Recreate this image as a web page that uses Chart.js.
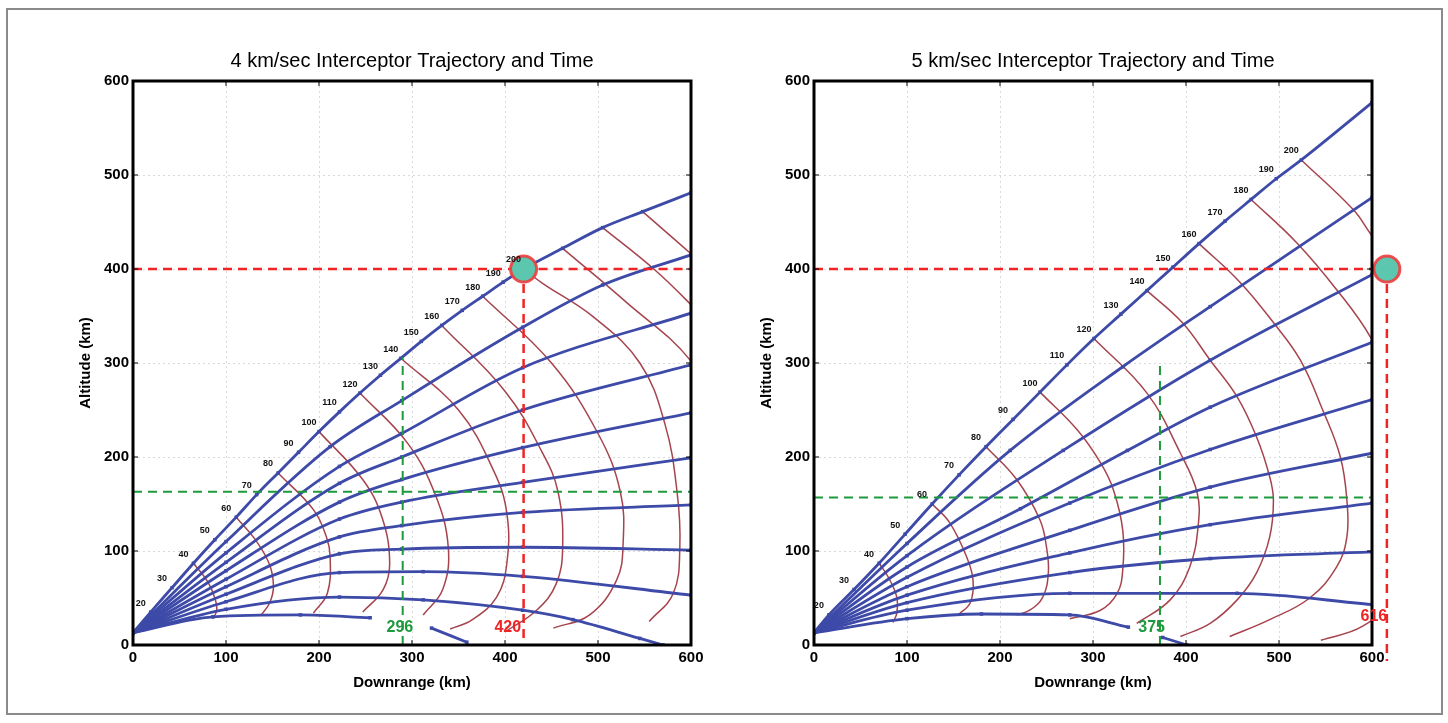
<!DOCTYPE html>
<html>
<head>
<meta charset="utf-8">
<script src="https://cdn.jsdelivr.net/npm/chart.js@4.4.0/dist/chart.umd.min.js"></script>
<style>
  body { margin: 0; background: #fff; width: 1448px; height: 723px; overflow: hidden; position: relative; }
  #frame { position: absolute; left: 6px; top: 8px; width: 1437px; height: 707px; border: 2px solid #8a8a8a; box-sizing: border-box; }
  canvas { position: absolute; top: 0; }
  #left { left: 0; }
  #right { left: 724px; }
</style>
</head>
<body>
<div id="frame"></div>
<canvas id="left" width="724" height="723"></canvas>
<canvas id="right" width="724" height="723"></canvas>
<script>
'use strict'

// axis ticks (km)
const xTicks = [0, 100, 200, 300, 400, 500, 600];
const yTicks = [0, 100, 200, 300, 400, 500, 600];

// time marks along the top trajectory (sec)
const times = [20, 30, 40, 50, 60, 70, 80, 90, 100, 110, 120, 130, 140, 150, 160, 170, 180, 190, 200];

// ---- 4 km/sec panel ----
const leftTimeX = [19, 42, 65, 88, 111, 133, 156, 178, 200, 222, 244, 266, 288, 310, 332, 354, 376, 398, 420];
const leftTimeY = [35, 61, 87, 112, 136, 160, 183, 205, 227, 248, 268, 287, 305, 323, 340, 356, 371, 386, 400];
const leftTopTail = [[462, 422], [505, 444], [548, 461], [600, 481]];

const leftTraj2 = [[0, 13], [100, 110], [212, 211], [289, 260], [419, 338], [505, 383], [600, 415]];
const leftTraj3 = [[0, 13], [100, 98], [222, 190], [289, 225], [419, 295], [600, 353]];
const leftTraj4 = [[0, 13], [100, 88], [222, 172], [289, 200], [419, 250], [600, 298]];
const leftTraj5 = [[0, 13], [100, 79], [222, 152], [289, 176], [419, 210], [600, 247]];
const leftTraj6 = [[0, 13], [100, 70], [222, 134], [289, 152], [419, 173], [600, 199]];
const leftTraj7 = [[0, 13], [100, 62], [222, 115], [289, 127], [419, 141], [600, 149]];
const leftTraj8 = [[0, 13], [100, 54], [222, 97], [289, 102], [419, 104], [600, 101]];
const leftTraj9 = [[0, 13], [100, 46], [222, 77], [312, 78], [419, 73], [600, 53]];
const leftTraj10 = [[0, 13], [100, 38], [222, 51], [312, 48], [419, 37], [473, 27], [545, 7], [570, 0]];
const leftTraj11a = [[0, 13], [86, 30], [180, 32], [255, 29]];
const leftTraj11b = [[321, 18], [359, 3]];

const leftArc20 = [[19, 35], [25, 28], [26, 20]];
const leftArc40 = [[65, 87], [80, 68], [88, 50], [90, 37], [86, 28]];
const leftArc60 = [[111, 136], [133, 110], [147, 85], [151, 62], [147, 45], [138, 32]];
const leftArc80 = [[156, 183], [194, 144], [208, 115], [212, 94], [209, 55], [194, 34]];
const leftArc100 = [[200, 227], [247, 176], [268, 135], [276, 87], [269, 59], [247, 35]];
const leftArc120 = [[244, 268], [295, 215], [325, 160], [339, 104], [333, 59], [312, 32]];
const leftArc140 = [[288, 305], [350, 250], [388, 185], [402, 140], [402, 87], [391, 51], [365, 27], [341, 17]];
const leftArc160 = [[332, 340], [400, 270], [440, 205], [457, 163], [462, 104], [455, 65], [434, 37], [400, 14]];
const leftArc180 = [[376, 371], [450, 300], [500, 225], [524, 163], [527, 108], [520, 69], [491, 32], [452, 18]];
const leftArc200 = [[420, 400], [440, 385], [495, 349], [545, 300], [572, 235], [585, 163], [588, 104], [581, 55], [555, 25]];
const leftArc220 = [[462, 422], [530, 365], [600, 302], [640, 230]];
const leftArc240 = [[505, 444], [560, 400], [600, 362], [640, 320]];
const leftArc260 = [[548, 461], [599, 417], [640, 380]];

const leftIntercept = [420, 400];
const leftGreen = [290, 163, 306];   // x of vertical, y of horizontal, top of vertical

// ---- 5 km/sec panel ----
const rightTimeX = [16, 43, 70, 98, 127, 156, 185, 214, 243, 272, 301, 330, 358, 386, 414, 442, 470, 497, 524];
const rightTimeY = [32, 59, 87, 118, 150, 181, 211, 240, 269, 298, 326, 352, 377, 402, 427, 451, 474, 496, 516];
const rightTopTail = [[600, 577]];

const rightTraj2 = [[0, 13], [100, 108], [211, 207], [332, 296], [426, 360], [600, 476]];
const rightTraj3 = [[0, 13], [100, 95], [268, 207], [426, 303], [600, 394]];
const rightTraj4 = [[0, 13], [100, 83], [222, 145], [337, 207], [426, 253], [600, 322]];
const rightTraj5 = [[0, 13], [100, 72], [275, 151], [426, 208], [600, 261]];
const rightTraj6 = [[0, 13], [100, 62], [275, 122], [426, 168], [600, 204]];
const rightTraj7 = [[0, 13], [100, 53], [275, 98], [426, 128], [600, 151]];
const rightTraj8 = [[0, 13], [100, 45], [275, 77], [426, 92], [600, 99]];
const rightTraj9 = [[0, 13], [100, 37], [275, 55], [455, 55], [600, 43]];
const rightTraj10a = [[0, 13], [100, 28], [180, 33], [275, 32], [338, 19]];
const rightTraj10b = [[375, 8], [401, 0]];

const rightArc20 = [[16, 32], [22, 24], [21, 17]];
const rightArc40 = [[70, 87], [80, 72], [89, 51], [89, 34], [85, 24]];
const rightArc60 = [[127, 150], [146, 130], [164, 94], [171, 69], [168, 45], [155, 32]];
const rightArc80 = [[185, 211], [218, 176], [243, 133], [250, 104], [252, 77], [246, 51], [232, 37], [218, 32]];
const rightArc100 = [[243, 269], [283, 229], [308, 194], [322, 165], [332, 122], [332, 80], [326, 55], [308, 37], [275, 28]];
const rightArc120 = [[301, 326], [358, 268], [394, 204], [412, 162], [413, 126], [404, 83], [383, 48], [347, 23]];
const rightArc140 = [[358, 377], [396, 343], [426, 303], [455, 264], [476, 221], [490, 179], [494, 154], [490, 115], [476, 77], [455, 48], [426, 23], [394, 9]];
const rightArc160 = [[414, 427], [458, 386], [494, 343], [523, 303], [547, 250], [566, 200], [573, 154], [573, 115], [562, 83], [533, 50], [490, 27], [447, 9]];
const rightArc180 = [[470, 474], [519, 428], [562, 378], [598, 328], [630, 260], [648, 180], [650, 110], [630, 55], [590, 20], [545, 5]];
const rightArc200 = [[524, 516], [580, 463], [598, 438], [640, 380]];

const rightIntercept = [616, 400];
const rightGreen = [372, 157, 303];

const FONT = '"Liberation Sans", Arial, sans-serif';
const BLUE = '#3d4aa8';
const ARC = '#a6444d';
const RED = '#f02424';
const GREEN = '#1d9a3c';

function pts(arr) {
  return arr.map(p => ({ x: p[0], y: p[1] }));
}

function blueLine(arr) {
  return { data: pts(arr), showLine: true, borderColor: BLUE, borderWidth: 2.8,
    pointRadius: 2.5, pointStyle: 'rect', pointBackgroundColor: BLUE, pointBorderWidth: 0,
    cubicInterpolationMode: 'monotone' };
}

function arcLine(arr) {
  return { data: pts(arr), showLine: true, borderColor: ARC, borderWidth: 1.5, pointRadius: 0, tension: 0.4 };
}

function dashLine(arr, color, width, clip) {
  return { data: pts(arr), showLine: true, borderColor: color, borderWidth: width,
    borderDash: [9, 6], pointRadius: 0, tension: 0, clip: clip ? undefined : false };
}

function panelPlugin(p) {
  return {
    id: 'panel',
    afterDatasetsDraw(chart) {
      const { ctx, chartArea: a, scales: { x, y } } = chart;
      ctx.save();
      // inward ticks like the original
      ctx.strokeStyle = '#000';
      ctx.lineWidth = 1;
      ctx.beginPath();
      xTicks.forEach(v => {
        const px = x.getPixelForValue(v);
        ctx.moveTo(px, a.bottom); ctx.lineTo(px, a.bottom - 5);
        ctx.moveTo(px, a.top); ctx.lineTo(px, a.top + 5);
      });
      yTicks.forEach(v => {
        const py = y.getPixelForValue(v);
        ctx.moveTo(a.left, py); ctx.lineTo(a.left + 5, py);
        ctx.moveTo(a.right, py); ctx.lineTo(a.right - 5, py);
      });
      ctx.stroke();
      ctx.lineWidth = 3;
      ctx.strokeRect(a.left, a.top, a.right - a.left, a.bottom - a.top);

      // time labels along top trajectory
      ctx.font = 'bold 9px ' + FONT;
      ctx.fillStyle = '#111';
      ctx.textAlign = 'center';
      ctx.textBaseline = 'middle';
      times.forEach((t, i) => {
        ctx.fillText(String(t), x.getPixelForValue(p.tx[i]) - 10, y.getPixelForValue(p.ty[i]) - 9);
      });

      // value notes
      ctx.font = 'bold 16px ' + FONT;
      p.notes.forEach(n => {
        ctx.fillStyle = n.c;
        ctx.fillText(n.t, x.getPixelForValue(n.x), y.getPixelForValue(n.y));
      });

      // titles
      ctx.fillStyle = '#000';
      ctx.font = '20px ' + FONT;
      ctx.fillText(p.title, (a.left + a.right) / 2, 61);
      ctx.font = 'bold 15px ' + FONT;
      ctx.fillText('Downrange (km)', (a.left + a.right) / 2, 683);
      ctx.translate(a.left - 47, (a.top + a.bottom) / 2);
      ctx.rotate(-Math.PI / 2);
      ctx.fillText('Altitude (km)', 0, 0);
      ctx.restore();
    }
  };
}

function axis(values, fit) {
  return {
    type: 'linear', min: 0, max: 600,
    afterBuildTicks: s => { s.ticks = values.map(v => ({ value: v })); },
    afterFit: fit,
    grid: { color: '#dadada', drawTicks: false },
    border: { display: false, dash: [2, 3] },
    ticks: { color: '#000', font: { size: 15, family: FONT, weight: 'bold' }, padding: 4, maxRotation: 0 }
  };
}

function makeChart(id, p) {
  const [ix, iy] = p.intercept;
  const [gx, gy, gtop] = p.green;
  const datasets = [];
  // intercept marker
  datasets.push({ data: [{ x: ix, y: iy }], pointRadius: 13, pointBackgroundColor: '#5cc6ae',
    pointBorderColor: 'rgba(240,60,60,0.9)', pointBorderWidth: 3, clip: false });
  // dashed guides
  datasets.push(dashLine([[0, iy], [ix, iy]], RED, 2.5, false));
  if (p.redFull) datasets.push(dashLine([[ix, iy], [600, iy]], RED, 2.5, true));
  datasets.push(dashLine([[ix, iy], [ix, p.redBottom]], RED, 2.5, false));
  datasets.push(dashLine([[0, gy], [600, gy]], GREEN, 2, true));
  datasets.push(dashLine([[gx, 0], [gx, gtop]], GREEN, 2, true));
  // trajectories
  const top = [[0, 13]].concat(p.tx.map((v, i) => [v, p.ty[i]]), p.topTail);
  datasets.push(blueLine(top));
  p.traj.forEach(t => datasets.push(blueLine(t)));
  // time contours
  p.arcs.forEach(c => datasets.push(arcLine(c)));

  new Chart(document.getElementById(id), {
    type: 'scatter',
    data: { datasets },
    options: {
      responsive: false,
      animation: false,
      events: [],
      devicePixelRatio: 1,
      layout: { padding: { left: p.padL, right: p.padR, top: 81, bottom: 48 } },
      plugins: { legend: { display: false }, tooltip: { enabled: false } },
      scales: {
        x: axis(xTicks, s => { s.height = 30; }),
        y: axis(yTicks, s => { s.width = p.yW; })
      }
    },
    plugins: [panelPlugin(p)]
  });
}

makeChart('left', {
  title: '4 km/sec Interceptor Trajectory and Time',
  padL: 40, yW: 93, padR: 33,
  tx: leftTimeX, ty: leftTimeY, topTail: leftTopTail,
  traj: [leftTraj2, leftTraj3, leftTraj4, leftTraj5, leftTraj6, leftTraj7, leftTraj8, leftTraj9, leftTraj10, leftTraj11a, leftTraj11b],
  arcs: [leftArc20, leftArc40, leftArc60, leftArc80, leftArc100, leftArc120, leftArc140, leftArc160, leftArc180, leftArc200, leftArc220, leftArc240, leftArc260],
  intercept: leftIntercept, green: leftGreen, redFull: true, redBottom: 0,
  notes: [{ t: '296', x: 287, y: 19, c: GREEN }, { t: '420', x: 403, y: 19, c: RED }]
});

makeChart('right', {
  title: '5 km/sec Interceptor Trajectory and Time',
  padL: 20, yW: 70, padR: 76,
  tx: rightTimeX, ty: rightTimeY, topTail: rightTopTail,
  traj: [rightTraj2, rightTraj3, rightTraj4, rightTraj5, rightTraj6, rightTraj7, rightTraj8, rightTraj9, rightTraj10a, rightTraj10b],
  arcs: [rightArc20, rightArc40, rightArc60, rightArc80, rightArc100, rightArc120, rightArc140, rightArc160, rightArc180, rightArc200],
  intercept: rightIntercept, green: rightGreen, redFull: false, redBottom: -17,
  notes: [{ t: '375', x: 363, y: 19, c: GREEN }, { t: '616', x: 602, y: 30, c: RED }]
});
</script>
</body>
</html>
